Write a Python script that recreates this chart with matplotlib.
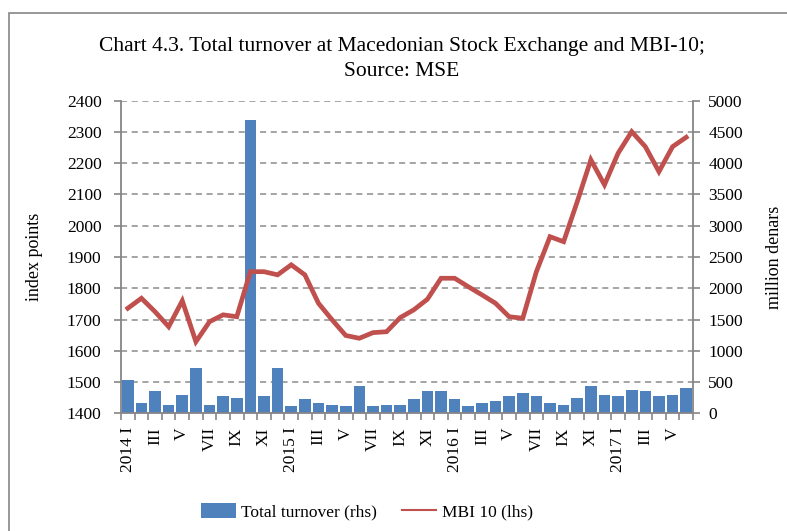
"""Chart 4.3: MSE total turnover (bars, rhs) and MBI-10 index (line, lhs)."""

import matplotlib

matplotlib.use("Agg")
import matplotlib.pyplot as plt
from matplotlib.lines import Line2D
from matplotlib.patches import Patch, Rectangle
from matplotlib.ticker import FixedLocator, MultipleLocator

# Monthly data, Jan 2014 - Jun 2017
years = [2014, 2015, 2016, 2017]
month_names = ["I", "II", "III", "IV", "V", "VI", "VII", "VIII", "IX", "X", "XI", "XII"]
n_months = 42

turnover = [
    533, 160, 357, 133, 293, 731, 133, 277, 245, 4693, 277, 731,
    117, 229, 165, 133, 117, 437, 117, 133, 133, 229, 357, 357,
    229, 117, 165, 197, 277, 325, 277, 165, 133, 245, 437, 293,
    277, 373, 357, 277, 293, 405,
]
mbi10 = [
    1736, 1768, 1725, 1677, 1760, 1629, 1693, 1715, 1709, 1853, 1853, 1843,
    1875, 1843, 1752, 1699, 1649, 1640, 1658, 1661, 1706, 1731, 1765, 1832,
    1832, 1805, 1779, 1752, 1709, 1704, 1853, 1965, 1949, 2077, 2211, 2131,
    2232, 2301, 2253, 2173, 2253, 2283,
]

BAR_COLOR = "#4F81BD"
LINE_COLOR = "#C0504D"
AXIS_COLOR = "#868686"
FONT = "Liberation Serif"

plt.rcParams["font.family"] = FONT

fig = plt.figure(figsize=(7.87, 5.31), dpi=100)
W, H = 787, 531
ax = fig.add_axes([121 / W, 1 - 413.3 / H, (693 - 121) / W, (413.3 - 100.7) / H])
axr = ax.twinx()

# outer frame (only left/top edges fall inside the picture)
fig.patches.append(
    Rectangle((9 / W, -0.1), 1.2, 1.1 - 13 / H, transform=fig.transFigure,
              fill=False, edgecolor=AXIS_COLOR, linewidth=1.2)
)

x = list(range(n_months))

# bars on the right axis, below the line
axr.bar(x, turnover, width=0.85, color=BAR_COLOR, zorder=2)
axr.set_ylim(0, 5000)
axr.yaxis.set_major_locator(MultipleLocator(500))
axr.set_axisbelow(True)
axr.grid(True, axis="y", color="#8c8c8c", linestyle=(0, (4, 3)), linewidth=1.1)

ax.plot(x, mbi10, color=LINE_COLOR, linewidth=3.4, solid_joinstyle="miter", zorder=3)
ax.set_ylim(1400, 2400)
ax.yaxis.set_major_locator(MultipleLocator(100))
ax.set_zorder(axr.get_zorder() + 1)
ax.patch.set_visible(False)

# category axis
ax.set_xlim(-0.5, n_months - 0.5)
labels = []
for i in range(0, n_months, 2):
    m = month_names[i % 12]
    labels.append(f"{years[i // 12]} {m}" if i % 12 == 0 else m)
ax.xaxis.set_major_locator(FixedLocator(list(range(0, n_months, 2))))
ax.set_xticklabels(labels, rotation=90, fontsize=12.5)
ax.xaxis.set_minor_locator(FixedLocator([i - 0.5 for i in range(n_months + 1)]))
ax.tick_params(axis="x", which="major", length=0, pad=10)
ax.tick_params(axis="x", which="minor", length=5, color=AXIS_COLOR, width=1.2)

ax.tick_params(axis="y", length=5, color=AXIS_COLOR, width=1.2, pad=9, labelsize=12.5)
axr.tick_params(axis="y", length=5, color=AXIS_COLOR, width=1.2, pad=6, labelsize=12.5)

for a in (ax, axr):
    a.spines["top"].set_visible(False)
    for s in ("left", "right", "bottom"):
        a.spines[s].set_color(AXIS_COLOR)
        a.spines[s].set_linewidth(1.3)
ax.spines["right"].set_visible(False)
axr.spines["left"].set_visible(False)
axr.spines["bottom"].set_visible(False)

ax.set_ylabel("index points", fontsize=13)
ax.yaxis.set_label_coords(-0.136, 0.5)
axr.set_ylabel("million denars", fontsize=13)
axr.yaxis.set_label_coords(1.127, 0.5)

fig.text(402 / W, 1 - 47 / H,
         "Chart 4.3. Total turnover at Macedonian Stock Exchange and MBI-10;",
         ha="center", va="center", fontsize=15.5)
fig.text(402 / W, 1 - 72 / H, "Source: MSE", ha="center", va="center", fontsize=15.5)

handles = [
    Patch(facecolor=BAR_COLOR, edgecolor="none"),
    Line2D([], [], color=LINE_COLOR, linewidth=1.5),
]
fig.legend(handles, ["Total turnover (rhs)", "MBI 10 (lhs)"], loc="center",
           bbox_to_anchor=(367 / W, 1 - 512 / H), ncol=2, frameon=False,
           fontsize=12.5, handlelength=2.0, handleheight=0.9, columnspacing=1.4,
           handletextpad=0.3)

fig.savefig("out.png", dpi=100)
